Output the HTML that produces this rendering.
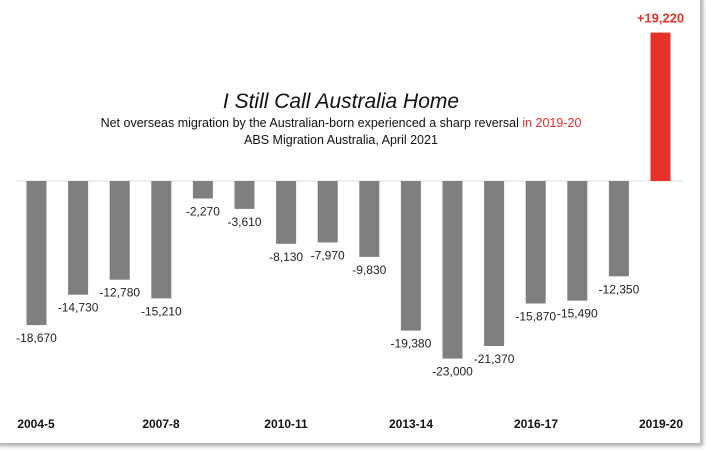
<!DOCTYPE html>
<html><head><meta charset="utf-8"><style>
html,body{margin:0;padding:0;background:#fff;}
body{width:706px;height:452px;position:relative;overflow:hidden;font-family:"Liberation Sans",sans-serif;}
.frame{position:absolute;left:-4px;top:-4px;width:703px;height:446px;border:1px solid #bbb;box-shadow:2px 2px 4px rgba(0,0,0,0.35);background:#fff;}
</style></head><body>
<div class="frame"></div>
<svg width="706" height="452" style="position:absolute;left:0;top:0" font-family="Liberation Sans, sans-serif">
<text x="341" y="108" text-anchor="middle" font-size="21" font-style="italic" fill="#111">I Still Call Australia Home</text>
<text x="341" y="127" text-anchor="middle" font-size="12.5" fill="#111">Net overseas migration by the Australian-born experienced a sharp reversal <tspan fill="#e8302a">in 2019-20</tspan></text>
<text x="341" y="144" text-anchor="middle" font-size="12.5" fill="#111">ABS Migration Australia, April 2021</text>
<line x1="16" y1="181" x2="683" y2="181" stroke="#ddd" stroke-width="1"/>
<g fill="#7f7f7f">
<rect x="26.5" y="181" width="20" height="144.1"/>
<rect x="68.1" y="181" width="20" height="113.7"/>
<rect x="109.7" y="181" width="20" height="98.7"/>
<rect x="151.3" y="181" width="20" height="117.4"/>
<rect x="192.9" y="181" width="20" height="17.5"/>
<rect x="234.5" y="181" width="20" height="27.9"/>
<rect x="276.1" y="181" width="20" height="62.8"/>
<rect x="317.7" y="181" width="20" height="61.5"/>
<rect x="359.3" y="181" width="20" height="75.9"/>
<rect x="400.9" y="181" width="20" height="149.6"/>
<rect x="442.5" y="181" width="20" height="177.6"/>
<rect x="484.1" y="181" width="20" height="165"/>
<rect x="525.7" y="181" width="20" height="122.5"/>
<rect x="567.3" y="181" width="20" height="119.6"/>
<rect x="608.9" y="181" width="20" height="95.3"/>
</g>
<rect x="650.5" y="32.6" width="20" height="148.4" fill="#e8302a"/>
<g font-size="12" fill="#222" text-anchor="middle">
<text x="36.5" y="342">-18,670</text>
<text x="78.1" y="311.7">-14,730</text>
<text x="119.7" y="296.7">-12,780</text>
<text x="161.3" y="315.4">-15,210</text>
<text x="202.9" y="215.5">-2,270</text>
<text x="244.5" y="225.9">-3,610</text>
<text x="286.1" y="260.8">-8,130</text>
<text x="327.7" y="259.5">-7,970</text>
<text x="369.3" y="273.9">-9,830</text>
<text x="410.9" y="347.6">-19,380</text>
<text x="452.5" y="375.6">-23,000</text>
<text x="494.1" y="363">-21,370</text>
<text x="535.7" y="320.5">-15,870</text>
<text x="577.3" y="317.6">-15,490</text>
<text x="618.9" y="293.3">-12,350</text>
</g>
<text x="660.5" y="22.6" text-anchor="middle" font-size="13" font-weight="bold" fill="#e8302a">+19,220</text>
<g font-size="12" font-weight="bold" fill="#111" text-anchor="middle">
<text x="36" y="428">2004-5</text>
<text x="161" y="428">2007-8</text>
<text x="286" y="428">2010-11</text>
<text x="411" y="428">2013-14</text>
<text x="536" y="428">2016-17</text>
<text x="661" y="428">2019-20</text>
</g>
</svg>
</body></html>
